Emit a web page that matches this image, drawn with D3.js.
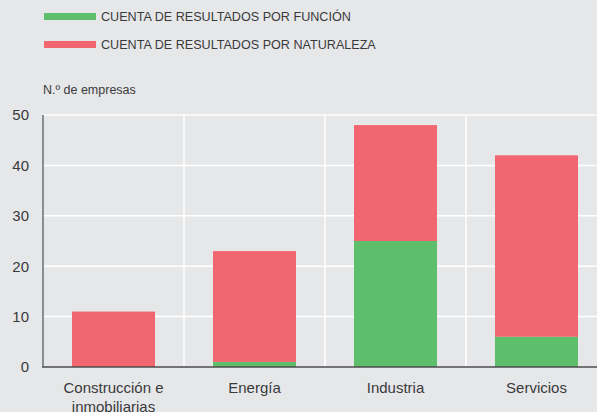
<!DOCTYPE html>
<html>
<head>
<meta charset="utf-8">
<script src="https://cdn.jsdelivr.net/npm/d3@7"></script>
<style>
  body { margin: 0; background: #e6e7e9; }
  svg { display: block; font-family: "Liberation Sans", Arial, sans-serif; }
</style>
</head>
<body>
<div id="chart"></div>
<script>
var categories = ["Construcción e\ninmobiliarias", "Energía", "Industria", "Servicios"];
var funcion = [0, 1, 25, 6];
var naturaleza = [11, 22, 23, 36];
var seriesNames = ["CUENTA DE RESULTADOS POR FUNCIÓN", "CUENTA DE RESULTADOS POR NATURALEZA"];
var yTicks = [0, 10, 20, 30, 40, 50];

var width = 597,
    height = 412;

var colors = ["#5dbe6c", "#f26672"];

var svg = d3.select("#chart")
  .append("svg")
  .attr("width", width)
  .attr("height", height);

svg.append("rect")
  .attr("width", width)
  .attr("height", height)
  .attr("fill", "#e6e7e9");

// band range goes past the right edge, like the original crop
var x = d3.scaleBand()
  .domain(categories)
  .range([43, 607])
  .paddingInner(0)
  .paddingOuter(0);

var y = d3.scaleLinear()
  .domain([0, 50])
  .range([367, 115]);

var barW = 83;

// grid
svg.selectAll(".hgrid")
  .data(yTicks.slice(1))
  .enter().append("line")
  .attr("x1", 43).attr("x2", width)
  .attr("y1", function (d) { return y(d); })
  .attr("y2", function (d) { return y(d); })
  .attr("stroke", "#fff")
  .attr("stroke-width", 1.5);

svg.selectAll(".vgrid")
  .data(categories.slice(1))
  .enter().append("line")
  .attr("x1", function (d) { return x(d); })
  .attr("x2", function (d) { return x(d); })
  .attr("y1", y(50)).attr("y2", y(0))
  .attr("stroke", "#fff")
  .attr("stroke-width", 1.5);

// stacked bars
var rows = categories.map(function (c, i) {
  return { cat: c, f: funcion[i], n: naturaleza[i] };
});
var stack = d3.stack().keys(["f", "n"])(rows);

svg.selectAll(".series")
  .data(stack)
  .enter().append("g")
  .attr("fill", function (d, i) { return colors[i]; })
  .selectAll("rect")
  .data(function (d) { return d; })
  .enter().append("rect")
  .attr("x", function (d) { return x(d.data.cat) + x.bandwidth() / 2 - barW / 2; })
  .attr("width", barW)
  .attr("y", function (d) { return y(d[1]); })
  .attr("height", function (d) { return y(d[0]) - y(d[1]); });

// axes lines
svg.append("line")
  .attr("x1", 43).attr("x2", 43)
  .attr("y1", y(50)).attr("y2", y(0))
  .attr("stroke", "#6d6e70").attr("stroke-width", 1.5);
svg.append("line")
  .attr("x1", 42).attr("x2", width)
  .attr("y1", y(0)).attr("y2", y(0))
  .attr("stroke", "#4d4d4f").attr("stroke-width", 1.5);

// y tick labels
svg.selectAll(".ytick")
  .data(yTicks)
  .enter().append("text")
  .attr("x", 29)
  .attr("y", function (d) { return y(d); })
  .attr("dy", "0.36em")
  .attr("text-anchor", "end")
  .attr("font-size", 15)
  .attr("fill", "#3a3a3c")
  .text(function (d) { return d; });

// category labels
svg.selectAll(".xlab")
  .data(categories)
  .enter().append("text")
  .attr("text-anchor", "middle")
  .attr("font-size", 15)
  .attr("fill", "#3a3a3c")
  .attr("transform", function (d) { return "translate(" + (x(d) + x.bandwidth() / 2) + ",393)"; })
  .selectAll("tspan")
  .data(function (d) { return d.split("\n"); })
  .enter().append("tspan")
  .attr("x", 0)
  .attr("dy", function (d, i) { return i ? 19 : 0; })
  .text(function (d) { return d; });

// legend
var legend = svg.selectAll(".legend")
  .data(seriesNames)
  .enter().append("g")
  .attr("transform", function (d, i) { return "translate(44," + (16 + i * 28) + ")"; });
legend.append("rect")
  .attr("x", 0).attr("y", -3)
  .attr("width", 52).attr("height", 7)
  .attr("fill", function (d, i) { return colors[i]; });
legend.append("text")
  .attr("x", 57)
  .attr("dy", "0.36em")
  .attr("font-size", 12.6)
  .attr("fill", "#3a3a3c")
  .text(function (d) { return d; });

svg.append("text")
  .attr("x", 43).attr("y", 94)
  .attr("font-size", 12.5)
  .attr("fill", "#3a3a3c")
  .text("N.º de empresas");
</script>
</body>
</html>
